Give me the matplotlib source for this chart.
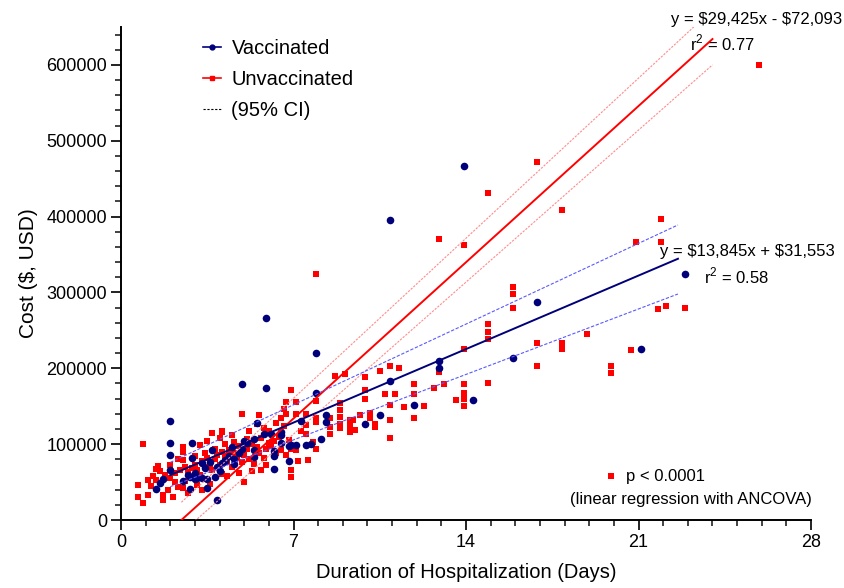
import matplotlib
matplotlib.use('Agg')
import matplotlib.pyplot as plt
from matplotlib.lines import Line2D
from matplotlib.ticker import MultipleLocator, FuncFormatter
import numpy as np

plt.rcParams['font.family'] = ['Liberation Sans', 'DejaVu Sans']
plt.rcParams['mathtext.fontset'] = 'custom'
plt.rcParams['mathtext.rm'] = 'Liberation Sans'

# vaccinated patients: duration (days), cost (thousand USD)
vac_days = [13.9, 10.9, 5.9, 7.9, 4.9, 5.9, 7.9, 22.9, 16.9, 15.9, 12.9, 12.9, 21.1, 10.9,
            11.9, 14.3, 10.5, 9.9, 8.3, 8.3, 7.3, 7.5, 8.1,
            5.5, 5.8, 6.5, 6.5, 6.5, 6.1, 5.4, 5.0, 5.1, 5.4, 4.5, 4.9, 4.2, 4.6, 4.6, 5.4,
            6.2, 6.8, 6.9, 7.1, 7.7, 6.2, 6.2, 6.8, 4.1,
            2.0, 2.0, 2.0, 2.0, 2.9, 2.9, 1.4, 1.6, 1.7, 2.5, 2.7, 2.8, 3.0, 3.1, 3.3, 3.5,
            2.8, 3.5, 3.8, 3.9, 3.6, 3.3, 3.7, 4.2, 4.0,
            3.0, 3.4, 3.9, 4.4, 4.8]
vac_cost = [467, 396, 266, 220, 179, 174, 167, 325, 287, 214, 210, 201, 225, 183,
            151, 158, 138, 126, 138, 129, 131, 99, 107,
            128, 113, 116, 112, 102, 113, 107, 104, 102, 92, 96, 93, 79, 80, 74, 83,
            84, 97, 99, 99, 100, 91, 67, 78, 75,
            130, 102, 86, 66, 101, 82, 41, 49, 54, 52, 59, 57, 54, 56, 55, 54,
            41, 42, 57, 26, 77, 75, 92, 78, 65,
            62, 68, 70, 85, 88]

# unvaccinated patients: duration (days), cost (thousand USD)
unvac_days = [25.9, 16.9, 14.9, 17.9, 12.9, 13.9, 21.9, 20.9, 21.9, 15.9, 15.9, 15.9, 21.8,
              22.1, 22.9, 14.9, 14.9, 14.9, 18.9, 16.9, 17.9, 17.9, 13.9, 12.9, 16.9, 19.9,
              19.9, 20.7, 7.9, 6.9,
              9.1, 9.9, 9.9, 9.9, 10.5, 10.9, 11.3, 10.7, 11.1, 10.9, 11.9, 11.9, 12.7, 13.1,
              13.9, 13.9, 13.9, 13.9, 13.6, 14.9, 11.5, 10.9, 11.9, 8.7, 8.9, 8.9, 8.9, 7.9,
              7.5, 7.9, 8.5, 8.5, 8.5, 8.9, 8.9, 9.3, 9.4, 9.3, 9.3, 9.5, 9.7, 10.1, 10.1,
              10.3, 10.3, 10.9, 12.3, 7.5, 7.5, 7.8, 7.9,
              4.9, 6.7, 7.1, 6.7, 5.5, 6.5, 7.1, 7.9, 7.3, 6.0, 6.9, 7.1, 7.6, 7.2, 6.9, 6.9,
              5.7, 5.0, 4.1, 4.1, 5.1, 4.6, 5.8,
              0.9, 0.7, 0.7, 0.9, 1.1, 1.1, 1.4, 1.4, 1.5, 1.7, 1.7, 2.1, 1.9, 2.5, 2.5, 2.5,
              3.7, 4.1, 3.2, 2.3, 2.5,
              2.2, 2.4, 2.6, 2.7, 2.9, 3.0, 3.1, 3.2, 3.3, 3.4, 3.5, 3.6, 3.7, 3.8, 3.9, 4.0,
              4.1, 4.2, 4.3, 4.4, 4.5, 4.6, 4.7, 4.8, 4.9, 5.0, 5.1, 5.2, 5.3, 5.4, 5.5, 5.6,
              5.7, 5.8, 5.9, 6.0, 6.1, 6.2, 6.3, 6.4, 6.5, 6.6, 6.7, 6.8, 3.0, 3.4, 3.8, 4.2,
              2.2, 2.6, 3.1, 3.6, 4.3, 4.8, 5.3, 5.9, 2.0, 2.3, 3.5, 4.0, 4.5, 5.2, 5.6, 6.3,
              6.6, 3.3, 2.7, 2.0, 1.8, 1.6, 1.3, 1.2]
unvac_cost = [600, 472, 431, 409, 371, 362, 397, 367, 367, 307, 298, 279, 278,
              282, 279, 258, 248, 238, 245, 234, 234, 226, 226, 195, 203, 203,
              194, 224, 324, 172,
              193, 188, 172, 160, 197, 203, 201, 166, 166, 152, 179, 166, 174, 179,
              179, 168, 160, 150, 158, 180, 149, 132, 135, 190, 154, 145, 136, 157,
              140, 129, 134, 123, 113, 127, 121, 132, 132, 124, 116, 119, 139, 141, 134,
              127, 123, 108, 150, 125, 114, 103, 93,
              140, 155, 156, 140, 127, 135, 140, 135, 118, 101, 93, 92, 79, 78, 66, 57,
              66, 50, 61, 118, 107, 103, 121,
              100, 46, 31, 22, 53, 33, 53, 67, 71, 33, 26, 30, 39, 96, 90, 79,
              115, 116, 99, 44, 42,
              62, 66, 70, 63, 68, 72, 66, 60, 78, 70, 82, 74, 66, 80, 86, 72,
              90, 84, 76, 92, 70, 88, 82, 98, 76, 86, 94, 80, 100, 74, 96, 88,
              108, 82, 94, 118, 98, 104, 88, 110, 92, 124, 86, 106, 84, 88, 94, 100,
              50, 52, 46, 48, 58, 62, 64, 72, 72, 80, 104, 108, 112, 118, 138, 128,
              146, 40, 36, 55, 60, 64, 58, 45]

# regression fits printed on the chart
vac_slope, vac_icpt = 13845, 31553
unvac_slope, unvac_icpt = 29425, -72093
vac_fit_x = [2.0, 22.6]
unvac_fit_x = [2.45, 24.0]
# 95% CI band ends
vac_ci_hi = [76000, 389000]
vac_ci_lo = [44000, 298000]
unvac_ci_hi = [23400, 673000]
unvac_ci_lo = [-17000, 600000]

NAVY = '#00007a'
RED = '#ff0000'

fig = plt.figure(figsize=(8.45, 5.88), dpi=100)
ax = fig.add_axes([0.1432, 0.1156, 0.8166, 0.8385])

ax.scatter(unvac_days, np.array(unvac_cost) * 1000, marker='s', s=17, color=RED,
           linewidths=0, zorder=2)
ax.scatter(vac_days, np.array(vac_cost) * 1000, marker='o', s=30, color=NAVY,
           linewidths=0, zorder=3)

vx = np.array(vac_fit_x)
ux = np.array(unvac_fit_x)
ax.plot(ux, unvac_slope * ux + unvac_icpt, color=RED, lw=1.4, zorder=4)
ax.plot(ux, unvac_ci_hi, color='#ff8c8c', lw=0.8, ls=(0, (2, 1.2)), zorder=4)
ax.plot(ux, unvac_ci_lo, color='#ff8c8c', lw=0.8, ls=(0, (2, 1.2)), zorder=4)
ax.plot(vx, vac_slope * vx + vac_icpt, color=NAVY, lw=1.4, zorder=4)
ax.plot(vx, vac_ci_hi, color='#5a5aff', lw=0.8, ls=(0, (3, 1.5)), zorder=4)
ax.plot(vx, vac_ci_lo, color='#5a5aff', lw=0.8, ls=(0, (3, 1.5)), zorder=4)

ax.set_xlim(0, 28)
ax.set_ylim(0, 650000)
ax.xaxis.set_major_locator(MultipleLocator(7))
ax.xaxis.set_minor_locator(MultipleLocator(1))
ax.yaxis.set_major_locator(MultipleLocator(100000))
ax.yaxis.set_minor_locator(MultipleLocator(20000))
ax.yaxis.set_major_formatter(FuncFormatter(lambda v, p: '%d' % v))

for s in ['top', 'right']:
    ax.spines[s].set_visible(False)
for s in ['left', 'bottom']:
    ax.spines[s].set_linewidth(1.4)
ax.tick_params(which='major', length=7, width=1.4, labelsize=13, color='#222222', pad=3)
ax.tick_params(which='minor', length=4, width=1.2, color='#222222')

ax.set_xlabel('Duration of Hospitalization (Days)', fontsize=14.5, labelpad=9)
ax.set_ylabel(r'Cost (\$, USD)', fontsize=15, labelpad=6)

handles = [Line2D([], [], color=NAVY, lw=1.2, marker='o', markersize=3.5),
           Line2D([], [], color=RED, lw=1.2, marker='s', markersize=3),
           Line2D([], [], color='black', lw=0.8, ls=(0, (2, 1.5)))]
ax.legend(handles, ['Vaccinated', 'Unvaccinated', '(95% CI)'], loc='upper left',
          bbox_to_anchor=(0.093, 1.013), frameon=False, fontsize=14.5,
          handlelength=0.9, handletextpad=0.5, labelspacing=0.6)

ax.text(25.8, 660000, r'y = \$29,425x - \$72,093', fontsize=12, ha='center',
        va='center', clip_on=False)
ax.text(24.4, 629000, r'r$^2$ = 0.77', fontsize=12, ha='center', va='center',
        clip_on=False)
ax.text(25.4, 354000, r'y = \$13,845x + \$31,553', fontsize=12, ha='center',
        va='center', clip_on=False)
ax.text(25.0, 322000, r'r$^2$ = 0.58', fontsize=12, ha='center', va='center',
        clip_on=False)

ax.scatter([19.9], [57900], marker='s', s=17, color=RED, linewidths=0)
ax.text(20.5, 57900, 'p < 0.0001', fontsize=12, ha='left', va='center')
ax.text(28.05, 27600, '(linear regression with ANCOVA)', fontsize=12, ha='right',
        va='center')

fig.savefig('out.png', dpi=100)
